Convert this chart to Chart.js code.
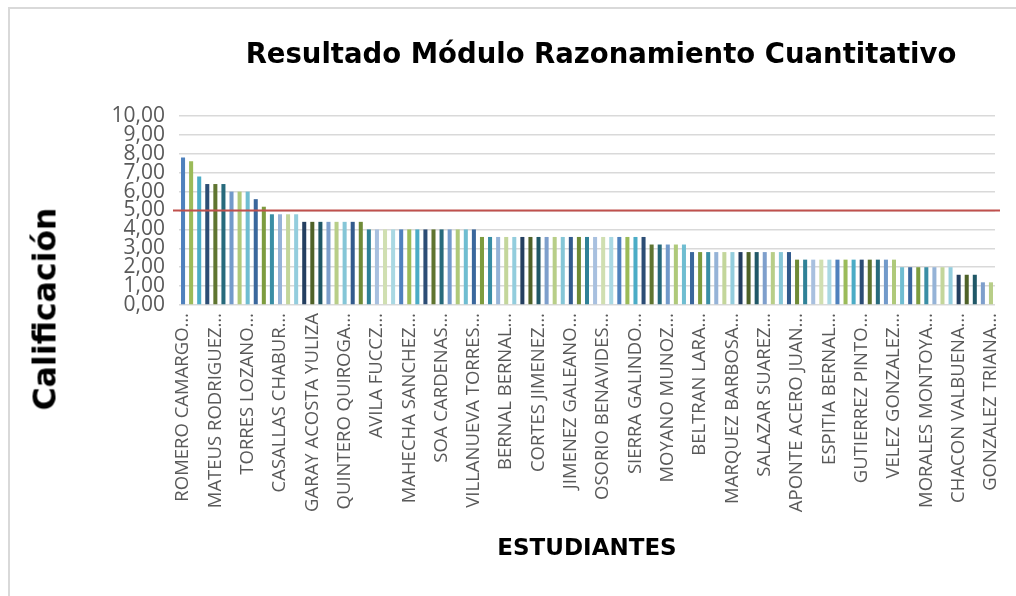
<!DOCTYPE html>
<html>
<head>
<meta charset="utf-8">
<script src="https://cdn.jsdelivr.net/npm/chart.js@4/dist/chart.umd.min.js"></script>
<style>
  body { margin: 0; background: #fff; }
  #wrap { position: relative; width: 1016px; height: 596px; overflow: hidden; }
  #frame { position: absolute; left: 8px; top: 7px; width: 1100px; height: 700px;
           border-left: 2px solid #d9d9d9; border-top: 2px solid #d9d9d9; }
  #title { position: absolute; left: 601px; top: 40px; transform: translateX(-50%);
           font: bold 27.5px/27px "DejaVu Sans"; color: #000; white-space: nowrap; }
  #ytitle { position: absolute; left: 45px; top: 309px;
            transform: translate(-50%, -50%) rotate(-90deg);
            font: bold 31.5px/31px "DejaVu Sans"; color: #000; white-space: nowrap; }
  canvas { position: absolute; left: 0; top: 0; }
</style>
</head>
<body>
<div id="wrap">
  <div id="frame"></div>
  <canvas id="chart" width="1016" height="596"></canvas>
  <div id="title">Resultado Módulo Razonamiento Cuantitativo</div>
  <div id="ytitle">Calificación</div>
</div>
<script>
// names printed under the axis (every 4th student)
const shownNames = [
  "ROMERO CAMARGO…", "MATEUS RODRIGUEZ…", "TORRES LOZANO…", "CASALLAS CHABUR…",
  "GARAY ACOSTA YULIZA", "QUINTERO QUIROGA…", "AVILA FUCCZ…", "MAHECHA SANCHEZ…",
  "SOA CARDENAS…", "VILLANUEVA TORRES…", "BERNAL BERNAL…", "CORTES JIMENEZ…",
  "JIMENEZ GALEANO…", "OSORIO BENAVIDES…", "SIERRA GALINDO…", "MOYANO MUNOZ…",
  "BELTRAN LARA…", "MARQUEZ BARBOSA…", "SALAZAR SUAREZ…", "APONTE ACERO JUAN…",
  "ESPITIA BERNAL…", "GUTIERREZ PINTO…", "VELEZ GONZALEZ…", "MORALES MONTOYA…",
  "CHACON VALBUENA…", "GONZALEZ TRIANA…"
];
const labelStep = 4;

// one score per student, sorted as in the sheet
const scores = [
  7.8, 7.6, 6.8, 6.4, 6.4, 6.4, 6.0, 6.0, 6.0, 5.6,
  5.2, 4.8, 4.8, 4.8, 4.8, 4.4, 4.4, 4.4, 4.4, 4.4,
  4.4, 4.4, 4.4, 4.0, 4.0, 4.0, 4.0, 4.0, 4.0, 4.0,
  4.0, 4.0, 4.0, 4.0, 4.0, 4.0, 4.0, 3.6, 3.6, 3.6,
  3.6, 3.6, 3.6, 3.6, 3.6, 3.6, 3.6, 3.6, 3.6, 3.6,
  3.6, 3.6, 3.6, 3.6, 3.6, 3.6, 3.6, 3.6, 3.2, 3.2,
  3.2, 3.2, 3.2, 2.8, 2.8, 2.8, 2.8, 2.8, 2.8, 2.8,
  2.8, 2.8, 2.8, 2.8, 2.8, 2.8, 2.4, 2.4, 2.4, 2.4,
  2.4, 2.4, 2.4, 2.4, 2.4, 2.4, 2.4, 2.4, 2.4, 2.0,
  2.0, 2.0, 2.0, 2.0, 2.0, 2.0, 1.6, 1.6, 1.6, 1.2,
  1.2
];

const passMark = 5;
const yTicks = { min: 0, max: 10, step: 1 };

// excel "vary colors by point" cycle
const barColors = [
  "#4F81BD", "#9BBB59", "#4BACC6", "#2C4D75", "#5F7530", "#276A7C",
  "#729ACA", "#AFC97A", "#6FBDD1", "#3A679C", "#7D9C3F", "#3A8EA5",
  "#95B3D7", "#C3D69B", "#93CDDD", "#243F60", "#4F6228", "#205867",
  "#7E9FCC", "#B8CE88", "#85C6D7", "#325B8D", "#6F8B37", "#2F8197",
  "#A8C0DF", "#D0DFB1", "#A9D8E3"
];

const categories = scores.map((_, i) => i % labelStep === 0 ? shownNames[i / labelStep] : "");

// red line at the passing grade
const passLine = {
  id: "passLine",
  afterDatasetsDraw(chart) {
    const { ctx, chartArea, scales } = chart;
    const y = scales.y.getPixelForValue(passMark);
    ctx.save();
    ctx.strokeStyle = "#C0504D";
    ctx.lineWidth = 2;
    ctx.beginPath();
    ctx.moveTo(chartArea.left - 6, y);
    ctx.lineTo(chartArea.right + 5, y);
    ctx.stroke();
    ctx.restore();
  }
};

new Chart(document.getElementById("chart"), {
  type: "bar",
  data: {
    labels: categories,
    datasets: [{
      data: scores,
      backgroundColor: barColors,
      barPercentage: 0.5,
      categoryPercentage: 1
    }]
  },
  options: {
    responsive: false,
    animation: false,
    layout: { padding: { left: 0, top: 116, right: 21, bottom: 20 } },
    plugins: { legend: { display: false }, tooltip: { enabled: false } },
    scales: {
      x: {
        grid: { display: false },
        border: { display: false },
        ticks: {
          autoSkip: false, minRotation: 90, maxRotation: 90, padding: 0,
          color: "#595959", font: { family: "Open Sans", size: 18.5 }
        },
        title: {
          display: true, text: "ESTUDIANTES", color: "#000",
          font: { family: "DejaVu Sans", size: 23, weight: "bold" },
          padding: { top: 0, bottom: 13 }
        },
        afterFit(scale) { scale.height = 271; }
      },
      y: {
        min: yTicks.min, max: yTicks.max,
        grid: { color: "#d9d9d9", lineWidth: 1.5, drawTicks: false },
        border: { display: false },
        ticks: {
          autoSkip: false, stepSize: yTicks.step, padding: 14, color: "#595959",
          font: { family: "Open Sans", size: 21 },
          callback: v => v.toFixed(2).replace(".", ",")
        },
        afterFit(scale) { scale.width = 179; }
      }
    }
  },
  plugins: [passLine]
});
</script>
</body>
</html>
